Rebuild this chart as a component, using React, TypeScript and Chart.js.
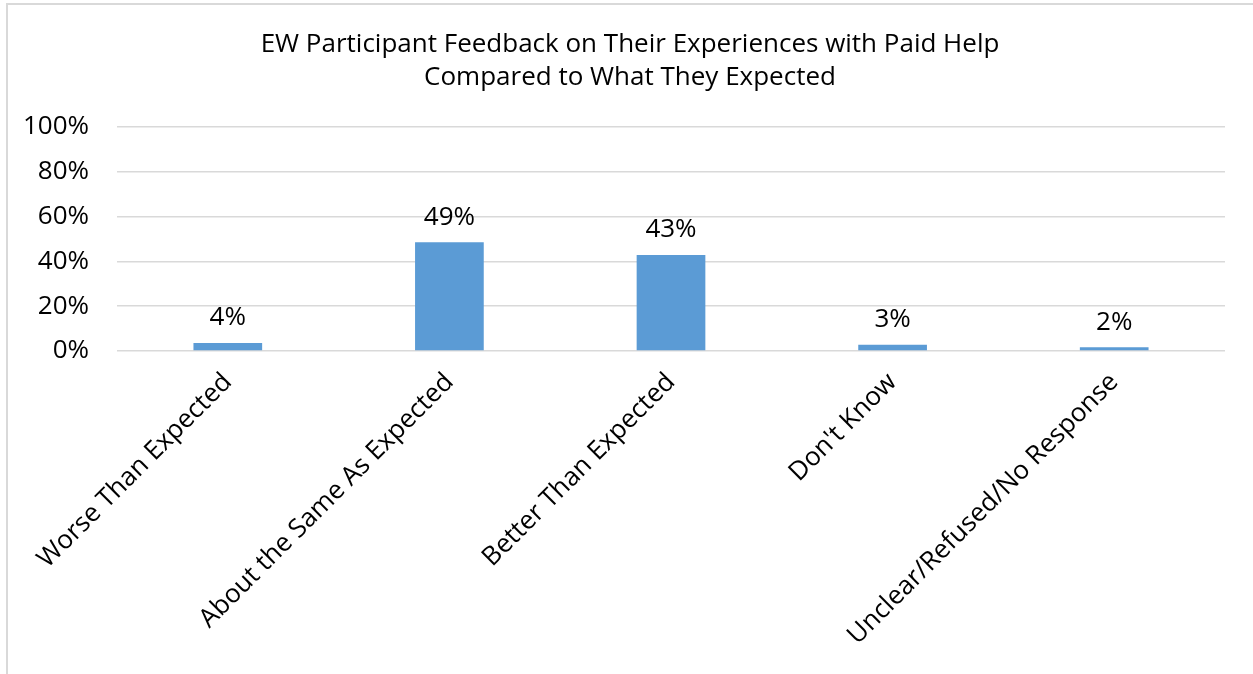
import React, { useEffect, useRef } from "react";
import { Chart, registerables } from "chart.js";

Chart.register(...registerables);

const categories = [
  "Worse Than Expected",
  "About the Same As Expected",
  "Better Than Expected",
  "Don't Know",
  "Unclear/Refused/No Response",
];
const values = [3.6, 48.6, 42.9, 2.8, 1.7];
const valueLabels = ["4%", "49%", "43%", "3%", "2%"];
const titleLines = [
  "EW Participant Feedback on Their Experiences with Paid Help",
  "Compared to What They Expected",
];

const FONT = "'Open Sans', 'Liberation Sans', sans-serif";
const FS = 26;

const labelPlugin = {
  id: "valueLabels",
  afterDatasetsDraw(chart: any) {
    const ctx = chart.ctx;
    const meta = chart.getDatasetMeta(0);
    ctx.save();
    ctx.font = `${FS}px ${FONT}`;
    ctx.fillStyle = "#000";
    ctx.textAlign = "center";
    ctx.textBaseline = "bottom";
    meta.data.forEach((bar: any, i: number) => {
      ctx.fillText(valueLabels[i], bar.x, bar.y - 12);
    });
    ctx.restore();
  },
};

const titlePlugin = {
  id: "customTitle",
  afterDraw(chart: any) {
    const ctx = chart.ctx;
    ctx.save();
    ctx.font = `${FS}px ${FONT}`;
    ctx.fillStyle = "#000";
    ctx.textAlign = "center";
    ctx.textBaseline = "middle";
    titleLines.forEach((line, i) => {
      ctx.fillText(line, 630, 45 + i * 33);
    });
    ctx.restore();
  },
};

export default function App() {
  const ref = useRef<HTMLCanvasElement | null>(null);
  useEffect(() => {
    if (!ref.current) return;
    const chart = new Chart(ref.current, {
      type: "bar",
      data: {
        labels: categories,
        datasets: [
          {
            data: values,
            backgroundColor: "#5B9BD5",
            barPercentage: 0.31,
            categoryPercentage: 1,
          },
        ],
      },
      options: {
        responsive: false,
        animation: false,
        layout: { padding: { left: 0, right: 28, top: 127, bottom: 0 } },
        plugins: {
          legend: { display: false },
          tooltip: { enabled: false },
          title: { display: false },
        },
        scales: {
          x: {
            grid: { display: false },
            border: { display: false },
            ticks: {
              color: "#000",
              font: { family: FONT, size: FS },
              minRotation: 45,
              maxRotation: 45,
              autoSkip: false,
              padding: 8,
            },
            afterFit: (scale: any) => {
              scale.height = 323;
            },
          },
          y: {
            min: 0,
            max: 100,
            grid: { color: "#d9d9d9", lineWidth: 1.5, drawTicks: false },
            border: { display: false },
            ticks: {
              stepSize: 20,
              color: "#000",
              font: { family: FONT, size: FS },
              padding: 28,
              callback: (v: any) => `${v}%`,
            },
            afterFit: (scale: any) => {
              scale.width = 117;
            },
          },
        },
      },
      plugins: [labelPlugin, titlePlugin],
    });
    return () => chart.destroy();
  }, []);
  return (
    <div style={{ position: "absolute", left: 0, top: 0, width: 1253, height: 674, overflow: "hidden", background: "#fff" }}>
      <div
        style={{
          position: "absolute",
          left: 6,
          top: 3,
          width: 1300,
          height: 700,
          border: "2px solid #d9d9d9",
          boxSizing: "border-box",
        }}
      />
      <canvas ref={ref} width={1253} height={674} style={{ position: "absolute", left: 0, top: 0 }} />
    </div>
  );
}
